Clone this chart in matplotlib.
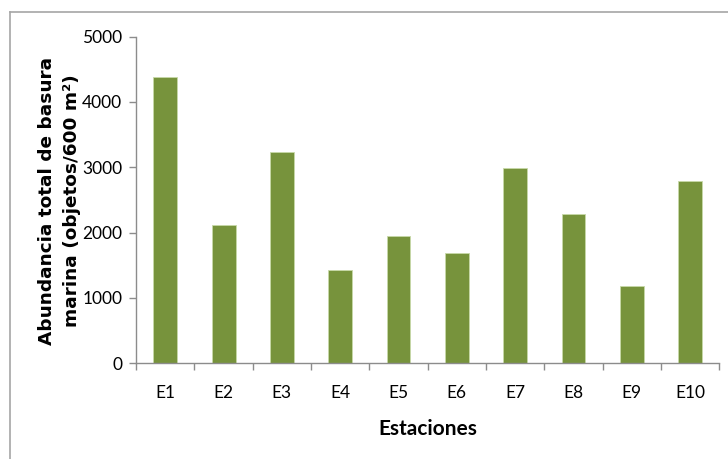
import numpy as np
import matplotlib.pyplot as plt
from matplotlib.lines import Line2D

# Datos
estaciones = ["E1", "E2", "E3", "E4", "E5", "E6", "E7", "E8", "E9", "E10"]
abundancia = [4390, 2120, 3230, 1420, 1950, 1690, 2985, 2290, 1175, 2785]
y_ticks = [0, 1000, 2000, 3000, 4000, 5000]

bar_color = "#77933C"
axis_gray = "#8c8c8c"
calibri_like = ["Lato", "DejaVu Sans"]

fig = plt.figure(figsize=(7.28, 4.59), dpi=100)
ax = fig.add_axes([0.187, 0.209, 0.801, 0.711])

x = np.arange(len(estaciones))
ax.bar(x, abundancia, width=0.41, color=bar_color, edgecolor="#c8d9a8", linewidth=0.6)

ax.set_xlim(-0.5, len(estaciones) - 0.5)
ax.set_ylim(0, 5000)
ax.set_yticks(y_ticks)
ax.set_yticklabels([str(v) for v in y_ticks], family=calibri_like, fontsize=12.5)

# categorias: etiquetas centradas, marcas entre barras
ax.set_xticks(x)
ax.set_xticklabels(estaciones, family=calibri_like, fontsize=12.5)
ax.set_xticks(np.arange(-0.5, len(estaciones)), minor=True)
ax.tick_params(axis="x", which="major", length=0, pad=16)
ax.tick_params(axis="x", which="minor", length=5, color=axis_gray, width=1)
ax.tick_params(axis="y", length=5, color=axis_gray, width=1, pad=5)

for side in ["top", "right"]:
    ax.spines[side].set_visible(False)
for side in ["left", "bottom"]:
    ax.spines[side].set_color(axis_gray)
    ax.spines[side].set_linewidth(1)

ax.set_xlabel("Estaciones", family=calibri_like, fontsize=15, fontweight="bold", labelpad=13)

fig.text(0.064, 0.562, "Abundancia total de basura", rotation=90,
         ha="center", va="center", fontsize=13.3, fontweight="bold", family="DejaVu Sans")
fig.text(0.099, 0.562, "marina (objetos/600 m²)", rotation=90,
         ha="center", va="center", fontsize=13.3, fontweight="bold", family="DejaVu Sans")

# marco del grafico (solo arriba e izquierda visibles)
fig.add_artist(Line2D([10 / 728, 1], [1 - 12 / 459, 1 - 12 / 459], color="#a6a6a6", lw=1.2))
fig.add_artist(Line2D([10 / 728, 10 / 728], [0, 1 - 12 / 459], color="#a6a6a6", lw=1.2))

fig.savefig("out.png", dpi=100)
